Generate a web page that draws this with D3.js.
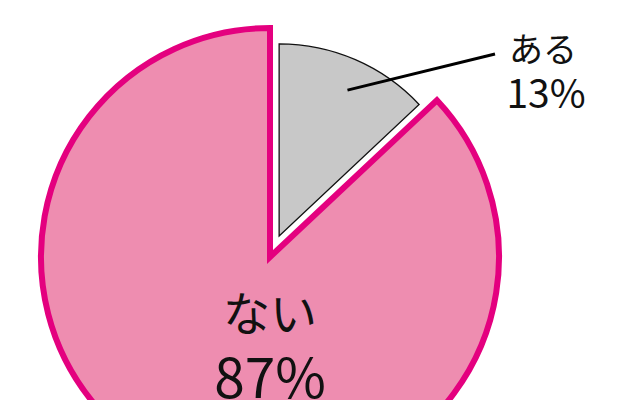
<!DOCTYPE html>
<html><head><meta charset="utf-8">
<script src="https://cdn.jsdelivr.net/npm/d3@7"></script>
<style>html,body{margin:0;padding:0;background:#fff;}svg{display:block;}</style>
</head><body>
<svg id="c" width="640" height="400"></svg>
<script>
const categories = ["ある", "ない"];
const values = [13, 87];
const percentLabels = ["13%", "87%"];

const W = 640, H = 400;
const cx = 270, cy = 257;
const svg = d3.select("#c");

const pie = d3.pie().sort(null).value(d => d)(values);
const radii = [192, 229];
const explode = [23, 0];
const fills = ["#c8c8c8", "#ee8db0"];
const strokes = ["#111", "#e4007f"];
const strokeW = [1.3, 6];

const g = svg.append("g").attr("transform", `translate(${cx},${cy})`);

// draw big slice first, then small
[1, 0].forEach(i => {
  const p = pie[i];
  const mid = (p.startAngle + p.endAngle) / 2;
  const dx = Math.sin(mid) * explode[i], dy = -Math.cos(mid) * explode[i];
  const arc = d3.arc().innerRadius(0).outerRadius(radii[i]);
  g.append("path")
    .attr("d", arc(p))
    .attr("transform", `translate(${dx},${dy})`)
    .attr("fill", fills[i])
    .attr("stroke", strokes[i])
    .attr("stroke-width", strokeW[i])
    .attr("stroke-linejoin", "miter")
    .attr("stroke-miterlimit", 10);
});

// leader line for small slice
const p0 = pie[0];
const mid0 = (p0.startAngle + p0.endAngle) / 2;
const ox = Math.sin(mid0) * explode[0], oy = -Math.cos(mid0) * explode[0];
const inner = 161;
const x1 = ox + Math.sin(mid0 + 0.03) * inner, y1 = oy - Math.cos(mid0 + 0.03) * inner;
g.append("line")
  .attr("x1", x1).attr("y1", y1)
  .attr("x2", 225).attr("y2", -203)
  .attr("stroke", "#000").attr("stroke-width", 3);

const font = "'Noto Sans CJK JP', 'Noto Sans', sans-serif";
// small slice label (one text, two lines)
const t0 = g.append("text").attr("text-anchor", "middle")
  .attr("font-family", font).attr("font-weight", 400).attr("fill", "#111");
t0.append("tspan").attr("x", 273).attr("y", -195).attr("font-size", 34).text(categories[0]);
t0.append("tspan").attr("x", 276).attr("y", -149).attr("font-size", 39).text(percentLabels[0]);
// big slice label (one text, two lines)
const t1 = g.append("text").attr("text-anchor", "middle")
  .attr("font-family", font).attr("font-weight", 400).attr("fill", "#111");
t1.append("tspan").attr("x", 0).attr("y", 74).attr("font-size", 47).text(categories[1]);
t1.append("tspan").attr("x", 0).attr("y", 141).attr("font-size", 55).text(percentLabels[1]);
</script>
</body></html>
